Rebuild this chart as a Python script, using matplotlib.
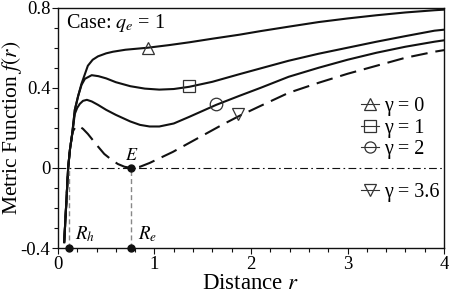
import numpy as np
import matplotlib
matplotlib.use('Agg')
import matplotlib.pyplot as plt
from matplotlib.lines import Line2D

plt.rcParams['font.family'] = ['Liberation Serif', 'DejaVu Serif']
plt.rcParams['mathtext.fontset'] = 'stix'

# values: shared steep start near the horizon
r_start = [0.065, 0.085, 0.106, 0.124, 0.148]
f_start = [-0.37, -0.19, 0.0, 0.09, 0.17]

r_g0 = r_start + [0.175, 0.21, 0.244, 0.31, 0.36, 0.415, 0.5, 0.57, 0.7, 0.93, 1.15,
                  1.36, 1.6, 1.88, 2.1, 2.39, 2.7, 3.0, 3.3, 3.6, 3.9, 4.0]
f_g0 = f_start + [0.29, 0.36, 0.42, 0.51, 0.54, 0.557, 0.572, 0.58, 0.59, 0.60, 0.613,
                  0.627, 0.645, 0.665, 0.683, 0.705, 0.728, 0.746, 0.762, 0.776, 0.787, 0.79]

r_g1 = r_start + [0.175, 0.21, 0.245, 0.28, 0.35, 0.42, 0.5, 0.6, 0.75, 0.9, 1.05, 1.2,
                  1.36, 1.6, 1.88, 2.1, 2.39, 2.7, 3.0, 3.3, 3.6, 3.9, 4.0]
f_g1 = f_start + [0.29, 0.36, 0.415, 0.445, 0.463, 0.458, 0.447, 0.428, 0.408, 0.396, 0.391, 0.394,
                  0.405, 0.43, 0.468, 0.497, 0.535, 0.57, 0.60, 0.63, 0.658, 0.685, 0.69]

r_g2 = r_start + [0.175, 0.2, 0.227, 0.26, 0.30, 0.35, 0.415, 0.5, 0.6, 0.75, 0.85, 0.95, 1.05,
                  1.2, 1.36, 1.5, 1.64, 1.88, 2.1, 2.39, 2.7, 3.0, 3.3, 3.6, 3.9, 4.0]
f_g2 = f_start + [0.27, 0.30, 0.32, 0.335, 0.34, 0.332, 0.315, 0.29, 0.265, 0.232, 0.215, 0.207, 0.207,
                  0.222, 0.255, 0.285, 0.315, 0.36, 0.40, 0.455, 0.50, 0.54, 0.575, 0.605, 0.63, 0.637]

r_g36 = r_start + [0.158, 0.18, 0.2, 0.225, 0.26, 0.31, 0.36, 0.415, 0.48, 0.55, 0.62, 0.69, 0.76,
                   0.85, 0.95, 1.05, 1.19, 1.36, 1.53, 1.7, 1.88, 2.1, 2.39, 2.7, 3.0, 3.3, 3.6, 3.9, 4.0]
f_g36 = f_start + [0.185, 0.203, 0.21, 0.207, 0.195, 0.17, 0.14, 0.107, 0.07, 0.043, 0.02, 0.006, 0.0,
                   0.006, 0.025, 0.048, 0.08, 0.125, 0.17, 0.215, 0.26, 0.31, 0.375, 0.425, 0.47, 0.51, 0.55, 0.58, 0.588]

gamma_labels = ['0', '1', '2', '3.6']
marker_r = [0.93, 1.36, 1.64, 1.87]
marker_f = [0.60, 0.407, 0.32, 0.27]
marker_shapes = ['^', 's', 'o', 'v']

r_h = 0.11
r_e = 0.76

fig = plt.figure(figsize=(4.49, 2.94), dpi=100)
ax = fig.add_axes([0.129, 0.156, 0.860, 0.818])

ink = '#111111'
ax.plot(r_g0, f_g0, color=ink, lw=1.5)
ax.plot(r_g1, f_g1, color=ink, lw=1.5)
ax.plot(r_g2, f_g2, color=ink, lw=1.5)
ax.plot(r_g36, f_g36, color=ink, lw=1.5, dashes=(8, 3.8))

for rr, ff, m in zip(marker_r, marker_f, marker_shapes):
    ax.plot([rr], [ff], marker=m, ms=9, mfc='none', mec='#333333', mew=0.9, ls='none')

# horizon line f = 0
ax.axhline(0, color=ink, lw=0.8, dashes=(7, 3, 1.5, 3))

# guide lines to the radii
ax.plot([r_h, r_h], [-0.4, 0.0], color='#888888', lw=1.0, dashes=(3.6, 2.2))
ax.plot([r_e, r_e], [-0.4, 0.0], color='#888888', lw=1.0, dashes=(3.6, 2.2))
ax.plot([r_h, r_e, r_e], [-0.4, -0.4, 0.0], 'o', color=ink, ms=5, ls='none', clip_on=False, zorder=5)

ax.text(r_e, 0.022, '$E$', ha='center', va='bottom', fontsize=13)
ax.text(r_h + 0.07, -0.33, '$R_h$', ha='left', va='center', fontsize=13.5)
ax.text(r_e + 0.07, -0.33, '$R_e$', ha='left', va='center', fontsize=13.5)
ax.text(0.02, 0.98, 'Case: $q_e$ = 1', transform=ax.transAxes, ha='left', va='top', fontsize=14.5)

handles = []
labels = []
for i, (m, g) in enumerate(zip(marker_shapes, gamma_labels)):
    if i == 3:
        handles.append(Line2D([], [], ls='none'))
        labels.append(' ')
    handles.append(Line2D([], [], color='#333333', lw=0.8, marker=m, ms=8, mfc='none', mec='#333333', mew=0.9))
    labels.append('γ = ' + g)
ax.legend(handles, labels, loc='center right', bbox_to_anchor=(1.02, 0.41), frameon=False,
          fontsize=14.5, handlelength=0.9, handletextpad=0.25, labelspacing=0.12, borderaxespad=0.2)

ax.set_xlim(0, 4)
ax.set_ylim(-0.4, 0.8)
ax.set_xticks([0, 1, 2, 3, 4])
ax.set_xticks(np.arange(0, 4.01, 0.2), minor=True)
ax.set_yticks([-0.4, 0, 0.4, 0.8])
ax.set_yticklabels(['-0.4', '0', '0.4', '0.8'])
ax.set_yticks(np.arange(-0.4, 0.81, 0.1), minor=True)
ax.tick_params(which='both', direction='out', labelsize=13.5, top=False, right=False, width=0.8, color=ink)
ax.tick_params(which='major', length=4, pad=1.5)
ax.tick_params(which='minor', length=3)
for s in ax.spines.values():
    s.set_linewidth(1.0)
    s.set_color(ink)

ax.set_xlabel('Distance $r$', fontsize=16.5)
ax.set_ylabel('Metric Function $f(r)$', fontsize=15.5)
ax.xaxis.set_label_coords(0.5, -0.105)
ax.yaxis.set_label_coords(-0.088, 0.5)

fig.savefig('out.png', dpi=100)
